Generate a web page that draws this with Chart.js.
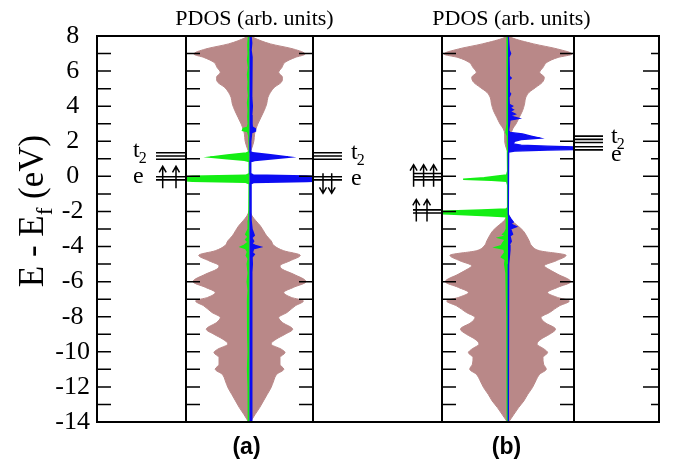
<!DOCTYPE html>
<html><head><meta charset="utf-8">
<script src="https://cdn.jsdelivr.net/npm/chart.js@4.4.1/dist/chart.umd.min.js"></script>
<style>
html,body{margin:0;padding:0;background:#fff;}
#wrap{position:relative;width:674px;height:463px;overflow:hidden;background:#fff;}
canvas{position:absolute;}
</style></head><body>
<div id="wrap">
<canvas id="pdosA" width="127" height="386" style="left:186px;top:36px;width:127px;height:386px"></canvas>
<canvas id="pdosB" width="132" height="386" style="left:442px;top:36px;width:132px;height:386px"></canvas>
<canvas id="main" width="674" height="463" style="left:0;top:0;width:674px;height:463px"></canvas>
</div>
<script>
// ---------------- data ----------------
const yTickValues = [8, 6, 4, 2, 0, -2, -4, -6, -8, -10, -12, -14];
const panelLabels = ['(a)', '(b)'];
const pdosTitle = 'PDOS (arb. units)';
const axisTitle = ['E - E', 'f', ' (eV)'];

// total PDOS (brown, symmetric), energy grid in eV
const totE = [8.0, 7.9, 7.55, 7.26, 6.97, 6.78, 6.5, 6.2, 5.93, 5.64, 5.36, 5.07, 4.79, 4.5, 4.12, 3.74, 3.36, 2.98, 2.7, 2.41, 2.03, 1.65, 1.46, 1.27, 1.0,
  -1.9, -2.0, -2.25, -2.53, -2.82, -3.1, -3.39, -3.67, -3.96, -4.24, -4.5, -4.81, -5.1, -5.3, -5.57, -6.0, -6.33, -6.62, -6.9, -7.1, -7.38, -7.76,
  -8.05, -8.33, -8.71, -9.0, -9.28, -9.55, -9.85, -10.04, -10.33, -10.71, -10.99, -11.28, -11.66, -12.04, -12.42, -12.8, -13.18, -13.56, -14.0];
const totA = [0.3, 0.7, 3.3, 6.9, 8.75, 7.2, 5.6, 5.1, 4.6, 5.2, 5.0, 3.9, 3.3, 2.9, 2.7, 2.3, 1.8, 1.3, 1.0, 0.8, 0.7, 0.4, 0.2, 0.05, 0,
  0, 0.1, 0.4, 1.0, 1.7, 2.2, 2.7, 3.4, 3.9, 5.4, 8.0, 6.4, 4.8, 5.2, 6.9, 8.9, 6.9, 5.4, 6.6, 8.5, 7.2, 5.9,
  4.6, 5.2, 6.8, 5.6, 4.2, 3.4, 5.0, 5.6, 4.8, 4.8, 5.4, 4.3, 3.8, 3.4, 2.8, 2.2, 1.6, 0.9, 0.15];
const totB = [0.3, 0.6, 3.9, 7.5, 9.7, 7.6, 5.9, 5.3, 4.8, 5.5, 5.2, 4.2, 3.2, 2.7, 2.5, 2.2, 1.7, 1.2, 0.7, 0.5, 0.5, 0.3, 0.1, 0, 0,
  0, 0, 0.2, 0.6, 1.5, 2.3, 2.8, 3.2, 3.6, 4.8, 8.8, 7.3, 5.5, 6.2, 7.5, 9.5, 7.5, 6.0, 7.5, 9.3, 7.8, 6.3,
  5.0, 5.6, 7.2, 6.3, 5.0, 4.4, 5.5, 6.0, 5.3, 5.4, 5.8, 4.8, 4.2, 3.7, 3.0, 2.4, 1.6, 0.9, 0.1];

// panel (a) spin-up (green, drawn to the left)
const upAE = [8.0, 7.5, 7.0, 6.6, 6.2, 5.8, 5.4, 5.0, 4.6, 4.2, 3.8, 3.4, 3.0, 2.8, 2.72, 2.62, 2.55, 2.3, 1.8, 1.4, 1.33, 1.22, 1.1, 1.0, 0.92, 0.85,
  0.15, 0.06, 0.0, -0.15, -0.28, -0.34, -0.42, -2.5, -3.0, -3.3, -3.45, -3.6, -3.75, -3.92, -4.02, -4.12, -4.3, -4.5, -4.7, -5.0, -5.5, -6.0, -6.5,
  -7.0, -8.0, -9.0, -10.0, -11.0, -12.0, -13.0, -14.0];
const upAV = [0.15, 0.25, 0.2, 0.3, 0.15, 0.3, 0.2, 0.25, 0.15, 0.3, 0.2, 0.25, 0.2, 0.3, 1.0, 1.1, 0.3, 0.1, 0.05, 0.05, 0.5, 3.5, 6.2, 3.5, 0.8, 0.05,
  0.05, 0.6, 9, 14, 9, 0.6, 0.05, 0.1, 0.2, 0.6, 0.2, 0.6, 0.2, 0.8, 1.4, 0.6, 0.3, 0.5, 0.2, 0.35, 0.2, 0.35, 0.2,
  0.3, 0.25, 0.3, 0.2, 0.3, 0.2, 0.2, 0.15];
// panel (a) spin-down (blue, drawn to the right)
const dnAE = [8.0, 7.6, 7.2, 6.8, 6.4, 6.0, 5.5, 5.0, 4.5, 4.0, 3.5, 3.0, 2.8, 2.7, 2.6, 2.5, 2.0, 1.4, 1.33, 1.22, 1.1, 1.0, 0.92, 0.85,
  0.15, 0.06, 0.0, -0.15, -0.28, -0.34, -0.42, -2.5, -3.0, -3.35, -3.5, -3.7, -3.85, -3.95, -4.02, -4.12, -4.35, -4.45, -4.6, -5.0, -5.5, -6.0,
  -7.0, -8.0, -9.0, -10.0, -11.0, -12.0, -13.0, -14.0];
const dnAV = [0.2, 0.3, 0.2, 0.35, 0.25, 0.35, 0.25, 0.35, 0.3, 0.4, 0.3, 0.35, 0.4, 0.9, 0.9, 0.3, 0.15, 0.15, 0.5, 3.3, 6.0, 3.3, 0.8, 0.15,
  0.15, 0.6, 9, 15, 9, 0.6, 0.15, 0.2, 0.35, 0.7, 0.3, 0.6, 0.3, 0.9, 1.6, 0.6, 0.4, 0.7, 0.35, 0.4, 0.3, 0.35,
  0.3, 0.35, 0.3, 0.35, 0.3, 0.3, 0.3, 0.25];

// panel (b) spin-up (green)
const upBE = [8.0, 7.0, 6.0, 5.0, 4.0, 3.0, 2.5, 2.3, 1.0, 0.3, 0.08, 0.02, -0.08, -0.17, -0.22, -0.28, -0.5, -1.8, -1.86, -1.92, -2.0, -2.06, -2.15, -2.24, -2.3,
  -2.6, -3.0, -3.2, -3.3, -3.4, -3.5, -3.6, -3.8, -3.95, -4.05, -4.15, -4.35, -4.6, -4.75, -5.0, -5.5, -6.0, -7.0, -8.0, -9.0, -10.0, -12.0, -14.0];
const upBV = [0.1, 0.15, 0.1, 0.15, 0.1, 0.15, 0.3, 0.1, 0.05, 0.05, 0.2, 1.5, 3.6, 6.8, 2.5, 0.2, 0.05, 0.05, 0.3, 4, 11, 14, 9, 3, 0.2,
  0.2, 0.3, 0.5, 0.8, 0.3, 1.4, 0.4, 0.8, 1.0, 1.9, 0.6, 0.5, 1.0, 0.4, 0.5, 0.3, 0.25, 0.2, 0.15, 0.15, 0.1, 0.1, 0.05];
// panel (b) spin-down (blue)
const dnBE = [8.0, 7.2, 7.0, 6.8, 6.0, 5.7, 5.6, 5.5, 4.8, 4.7, 4.5, 4.1, 4.0, 3.9, 3.8, 3.7, 3.55, 3.45, 3.3, 3.2, 2.6, 2.5, 2.42, 2.3, 2.18, 2.1, 2.0,
  1.85, 1.78, 1.72, 1.65, 1.55, 1.5, 1.44, 1.38, -2.2, -2.4, -2.6, -2.7, -2.87, -3.0, -3.3, -3.4, -3.7, -3.9, -4.2, -5.0, -14.0];
const dnBV = [0.05, 0.2, 0.4, 0.15, 0.2, 0.2, 0.5, 0.2, 0.2, 0.4, 0.15, 0.2, 0.7, 0.3, 0.8, 0.3, 1.1, 0.3, 1.7, 0.3, 0.1, 0.3, 2.2, 3.5, 4.9, 2.0, 1.0,
  0.8, 2, 6, 13, 13, 6, 1.0, 0.1, 0.05, 0.4, 0.8, 0.4, 1.3, 0.4, 0.7, 0.3, 0.5, 0.2, 0.3, 0.1, 0.05];

// crystal-field level diagrams
const levelCol   = ['aL', 'aL', 'aR', 'aR', 'bL', 'bL', 'bR', 'bR'];
const levelE     = [1.16, -0.11, 1.16, -0.11, -0.02, -2.0, 2.11, 1.6];
const levelLines = [3, 2, 3, 2, 3, 2, 3, 2];
const levelSpin  = [0, 2, 0, -2, 3, 2, 0, 0];     // + up arrows, - down arrows
const levelName  = ['t2', 'e', 't2', 'e', '', '', 't2', 'e'];

// ---------------- style / layout ----------------
const BROWN = '#b98888';
const GREEN = '#14ee14';
const BLUE = '#0c0cf2';
const SERIF = '"Liberation Serif", "DejaVu Serif", serif';
const SANS = '"Liberation Sans", Arial, sans-serif';
const dividers = [186, 313, 442, 574];
const colGeom = {
  aL: {x0: 156, x1: 186, arrowsX: [6.7, 20], lx: 133, dyT: 1, dyE: 5},
  aR: {x0: 313, x1: 342, arrowsX: [10, 18.7], lx: 351, dyT: 3, dyE: 6.5},
  bL: {x0: 413, x1: 442, arrowsX: [0.6, 10.6, 20.6], arrowsX2: [3.3, 14]},
  bR: {x0: 574, x1: 603, lx: 611, dyT: 3.5, dyE: 12.5}
};

function pts(E, V, sign) { return E.map((e, i) => ({x: sign * V[i], y: e})); }

function makePdos(id, tot, upE, upV, dnE, dnV, blueW) {
  new Chart(document.getElementById(id), {
    type: 'line',
    data: {datasets: [
      {data: pts(dnE, dnV, 1), borderColor: BLUE, backgroundColor: BLUE, fill: 'origin', borderWidth: blueW, pointRadius: 0, tension: 0},
      {data: pts(upE, upV, -1), borderColor: GREEN, backgroundColor: GREEN, fill: 'origin', borderWidth: 1.5, pointRadius: 0, tension: 0},
      {data: pts(totE, tot, 1), borderColor: BROWN, backgroundColor: BROWN, fill: 'origin', borderWidth: 1, pointRadius: 0, cubicInterpolationMode: 'monotone'},
      {data: pts(totE, tot, -1), borderColor: BROWN, backgroundColor: BROWN, fill: 'origin', borderWidth: 1, pointRadius: 0, cubicInterpolationMode: 'monotone'}
    ]},
    options: {
      indexAxis: 'y', responsive: false, animation: false, devicePixelRatio: 1,
      layout: {padding: 0},
      plugins: {legend: {display: false}, tooltip: {enabled: false}},
      scales: {
        x: {type: 'linear', min: -10, max: 10, display: false},
        y: {type: 'linear', min: -14, max: 8, display: false}
      }
    }
  });
}
makePdos('pdosA', totA, upAE, upAV, dnAE, dnAV, 2);
makePdos('pdosB', totB, upBE, upBV, dnBE, dnBV, 1.3);

function drawT2(ctx, name, x, baseline, size) {
  ctx.font = size + 'px ' + SERIF;
  ctx.textAlign = 'left';
  ctx.textBaseline = 'alphabetic';
  ctx.fillText(name[0], x, baseline);
  if (name.length > 1) {
    const w = ctx.measureText(name[0]).width;
    ctx.font = '16px ' + SERIF;
    ctx.fillText(name.slice(1), x + w - 1, baseline + 6);
  }
}

function arrow(ctx, x, yTail, yHead) {
  const d = yHead < yTail ? 1 : -1;
  ctx.beginPath();
  ctx.moveTo(x, yTail); ctx.lineTo(x, yHead);
  ctx.moveTo(x - 3.5, yHead + d * 6); ctx.lineTo(x, yHead); ctx.lineTo(x + 3.5, yHead + d * 6);
  ctx.stroke();
}

const framePlugin = {
  id: 'framePlugin',
  afterDraw(chart) {
    const {ctx, chartArea: ca} = chart;
    const y = chart.scales.y;
    ctx.save();
    ctx.strokeStyle = '#000';
    ctx.fillStyle = '#000';
    // frame and dividers
    ctx.lineWidth = 2;
    ctx.strokeRect(ca.left, ca.top, ca.right - ca.left, ca.bottom - ca.top);
    ctx.beginPath();
    dividers.forEach(x => { ctx.moveTo(x, ca.top); ctx.lineTo(x, ca.bottom); });
    ctx.stroke();
    // inward ticks every 1 eV
    ctx.lineWidth = 1.5;
    ctx.beginPath();
    for (let v = Math.ceil(y.min) + 1; v < y.max; v++) {
      const py = y.getPixelForValue(v);
      const segs = [[ca.left, 14], [dividers[0], 14], [dividers[1], -14], [dividers[2], 14], [dividers[3], -14],
        [ca.right, v % 2 === 0 ? -16 : -8]];
      segs.forEach(([x, len]) => { ctx.moveTo(x, py); ctx.lineTo(x + len, py); });
    }
    ctx.stroke();
    // levels
    levelE.forEach((E, i) => {
      const g = colGeom[levelCol[i]];
      const yc = y.getPixelForValue(E);
      const n = levelLines[i];
      ctx.lineWidth = 1.6;
      ctx.beginPath();
      for (let k = 0; k < n; k++) {
        const yy = yc + (k - (n - 1) / 2) * 3.2;
        ctx.moveTo(g.x0, yy); ctx.lineTo(g.x1, yy);
      }
      ctx.stroke();
      const s = levelSpin[i];
      if (s !== 0) {
        ctx.lineWidth = 1.5;
        const offs = (levelCol[i] === 'bL' && Math.abs(s) === 2) ? g.arrowsX2 : g.arrowsX;
        for (let k = 0; k < Math.abs(s); k++) {
          const x = g.x0 + offs[k];
          if (s > 0) arrow(ctx, x, yc + 10, yc - 12);
          else arrow(ctx, x, yc - 5, yc + 15);
        }
      }
      if (levelName[i]) {
        const base = yc + (levelName[i] === 'e' ? g.dyE : g.dyT);
        drawT2(ctx, levelName[i], g.lx, base, 24);
      }
    });
    // PDOS titles
    ctx.font = '22px ' + SERIF;
    ctx.textAlign = 'center';
    ctx.textBaseline = 'alphabetic';
    ctx.fillText(pdosTitle, 254.5, 25);
    ctx.fillText(pdosTitle, 511.5, 25);
    // panel labels
    ctx.font = 'bold 23px ' + SANS;
    ctx.fillText(panelLabels[0], 246.5, 454);
    ctx.fillText(panelLabels[1], 506.5, 454);
    // axis title (rotated, with subscript)
    ctx.save();
    ctx.translate(43, 211);
    ctx.rotate(-Math.PI / 2);
    const fs = 35;
    ctx.font = fs + 'px ' + SERIF;
    const w1 = ctx.measureText(axisTitle[0]).width;
    const w3 = ctx.measureText(axisTitle[2]).width;
    ctx.font = Math.round(fs * 0.65) + 'px ' + SERIF;
    const w2 = ctx.measureText(axisTitle[1]).width;
    let x = -(w1 + w2 + w3) / 2;
    ctx.textAlign = 'left';
    ctx.font = fs + 'px ' + SERIF;
    ctx.fillText(axisTitle[0], x, 0);
    ctx.font = Math.round(fs * 0.65) + 'px ' + SERIF;
    ctx.fillText(axisTitle[1], x + w1, fs * 0.25);
    ctx.font = fs + 'px ' + SERIF;
    ctx.fillText(axisTitle[2], x + w1 + w2, 0);
    ctx.restore();
    ctx.restore();
  }
};

new Chart(document.getElementById('main'), {
  type: 'scatter',
  data: {datasets: []},
  options: {
    responsive: false, animation: false, devicePixelRatio: 1,
    layout: {padding: {top: 36, bottom: 41, left: 0, right: 15}},
    plugins: {legend: {display: false}, tooltip: {enabled: false}},
    scales: {
      x: {type: 'linear', min: 0, max: 1, display: false},
      y: {
        type: 'linear', min: -14, max: 8,
        afterFit: s => { s.width = 97; },
        afterBuildTicks: s => { s.ticks = yTickValues.map(v => ({value: v})); },
        grid: {display: false, drawTicks: false},
        border: {display: false},
        ticks: {autoSkip: false, color: '#000', padding: 7, crossAlign: 'center', font: {family: SERIF, size: 26}}
      }
    }
  },
  plugins: [framePlugin]
});
</script>
</body></html>
